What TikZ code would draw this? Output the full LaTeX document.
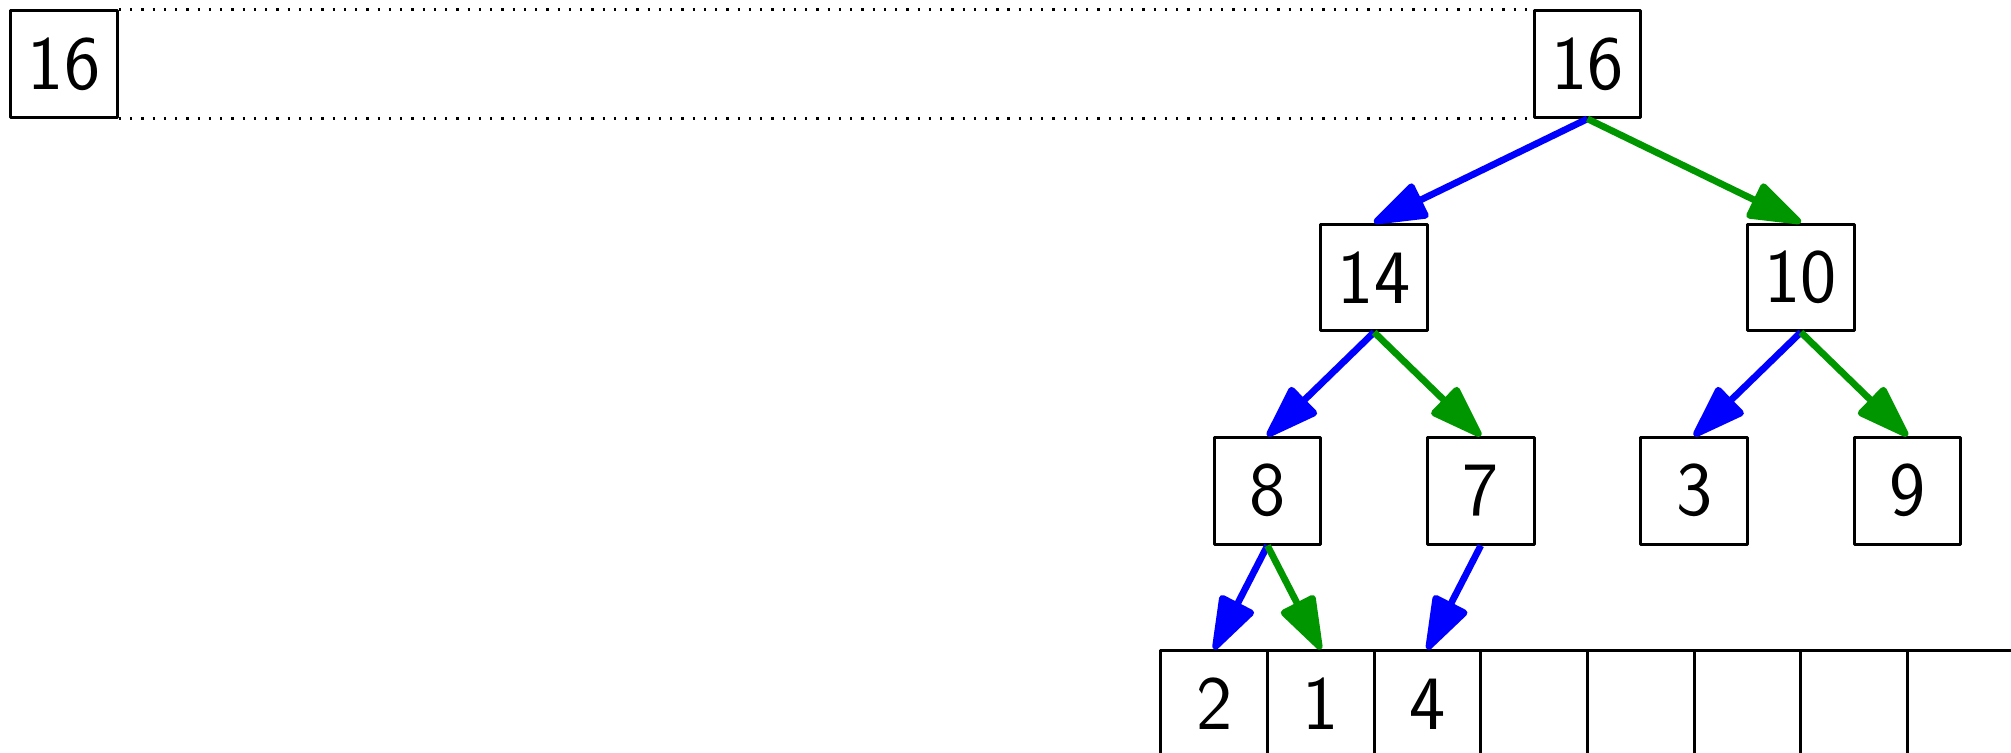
\documentclass[tikz,border=0pt]{standalone}
\usetikzlibrary{arrows.meta}
\definecolor{myblue}{RGB}{0,0,255}
\definecolor{mygreen}{RGB}{0,150,0}
\begin{document}
\begin{tikzpicture}[
  box/.style={draw, line width=0.8pt, minimum size=1cm, inner sep=0pt, line join=round, font=\fontsize{20.5}{24}\selectfont\sffamily},
  lt/.style={-{Triangle[length=16pt,width=10.5pt,round]}, line width=1.8pt, myblue},
  rt/.style={lt, mygreen},
  dots/.style={line width=0.8pt, dash pattern=on 0.6pt off 2.4pt}
]
\useasboundingbox (0,0) rectangle (18.85,-7.057);
\clip (0,0) rectangle (18.85,-7.057);
% top row
\node[box] (a) at (0.6,-0.6) {16};
\node[box] (r) at (14.88,-0.6) {16};
\draw[dots] (a.north east) -- (r.north west);
\draw[dots] (a.south east) -- (r.south west);
% level 2
\node[box] (n14) at (12.88,-2.6) {14};
\node[box] (n10) at (16.88,-2.6) {10};
% level 3
\node[box] (n8) at (11.88,-4.6) {8};
\node[box] (n7) at (13.88,-4.6) {7};
\node[box] (n3) at (15.88,-4.6) {3};
\node[box] (n9) at (17.88,-4.6) {9};
% array
\node[box] (c0) at (11.38,-6.6) {2};
\node[box] (c1) at (12.38,-6.6) {1};
\node[box] (c2) at (13.38,-6.6) {4};
\node[box] (c3) at (14.38,-6.6) {};
\node[box] (c4) at (15.38,-6.6) {};
\node[box] (c5) at (16.38,-6.6) {};
\node[box] (c6) at (17.38,-6.6) {};
\node[box] (c7) at (18.38,-6.6) {};
\node[box] (c8) at (19.38,-6.6) {};
% connectors
\draw[lt] (r.south) -- (n14.north);
\draw[rt] (r.south) -- (n10.north);
\draw[lt] (n14.south) -- (n8.north);
\draw[rt] (n14.south) -- (n7.north);
\draw[lt] (n10.south) -- (n3.north);
\draw[rt] (n10.south) -- (n9.north);
\draw[lt] (n8.south) -- (c0.north);
\draw[rt] (n8.south) -- (c1.north);
\draw[lt] (n7.south) -- (c2.north);
\end{tikzpicture}
\end{document}
